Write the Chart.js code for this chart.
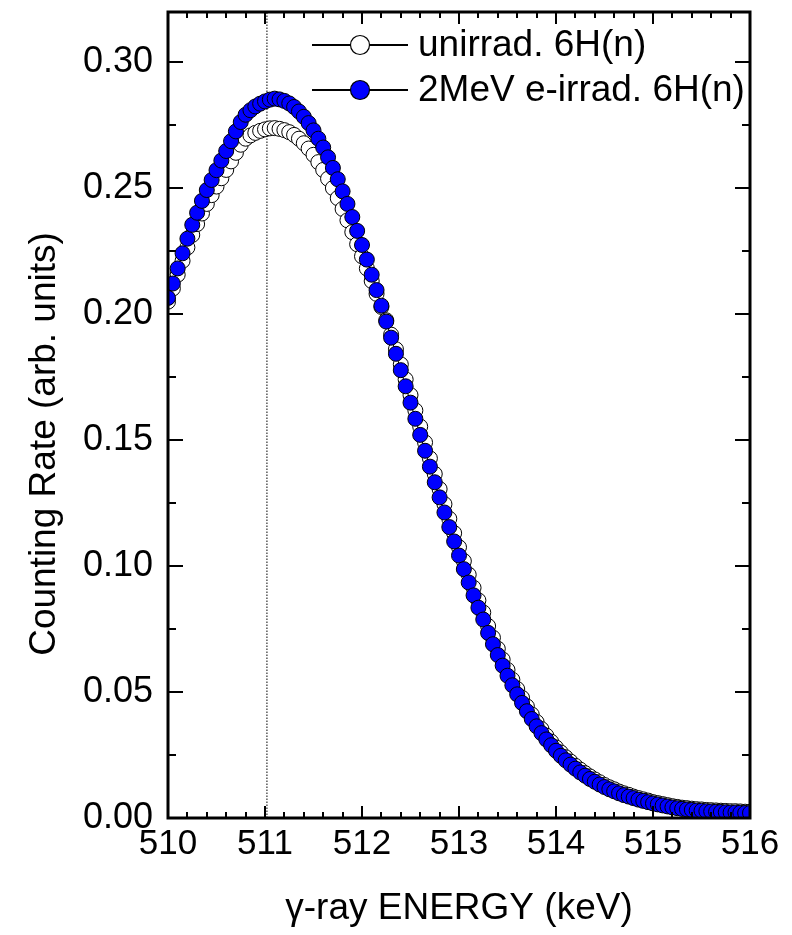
<!DOCTYPE html>
<html>
<head>
<meta charset="utf-8">
<script src="https://cdn.jsdelivr.net/npm/chart.js@4.4.1/dist/chart.umd.min.js"></script>
<style>
  body { margin: 0; background: #fff; }
  canvas { display: block; }
</style>
</head>
<body>
<canvas id="chart" width="792" height="935"></canvas>
<script>
// gamma-ray energy of each channel (keV)
const energy = [
  510.00, 510.05, 510.10, 510.15, 510.20, 510.25, 510.30, 510.35, 510.40, 510.45,
  510.50, 510.55, 510.60, 510.65, 510.70, 510.75, 510.80, 510.85, 510.90, 510.95,
  511.00, 511.05, 511.10, 511.15, 511.20, 511.25, 511.30, 511.35, 511.40, 511.45,
  511.50, 511.55, 511.60, 511.65, 511.70, 511.75, 511.80, 511.85, 511.90, 511.95,
  512.00, 512.05, 512.10, 512.15, 512.20, 512.25, 512.30, 512.35, 512.40, 512.45,
  512.50, 512.55, 512.60, 512.65, 512.70, 512.75, 512.80, 512.85, 512.90, 512.95,
  513.00, 513.05, 513.10, 513.15, 513.20, 513.25, 513.30, 513.35, 513.40, 513.45,
  513.50, 513.55, 513.60, 513.65, 513.70, 513.75, 513.80, 513.85, 513.90, 513.95,
  514.00, 514.05, 514.10, 514.15, 514.20, 514.25, 514.30, 514.35, 514.40, 514.45,
  514.50, 514.55, 514.60, 514.65, 514.70, 514.75, 514.80, 514.85, 514.90, 514.95,
  515.00, 515.05, 515.10, 515.15, 515.20, 515.25, 515.30, 515.35, 515.40, 515.45,
  515.50, 515.55, 515.60, 515.65, 515.70, 515.75, 515.80, 515.85, 515.90, 515.95,
  516.00
];

// unirradiated 6H(n) - open circles
const unirrad = [
  0.2050, 0.2102, 0.2157, 0.2212, 0.2265, 0.2315, 0.2358, 0.2400, 0.2438, 0.2473,
  0.2507, 0.2540, 0.2573, 0.2607, 0.2641, 0.2673, 0.2697, 0.2710, 0.2720, 0.2728,
  0.2734, 0.2738, 0.2739, 0.2736, 0.2731, 0.2723, 0.2712, 0.2697, 0.2679, 0.2658,
  0.2633, 0.2604, 0.2573, 0.2538, 0.2501, 0.2461, 0.2418, 0.2373, 0.2326, 0.2278,
  0.2230, 0.2182, 0.2132, 0.2081, 0.2029, 0.1976, 0.1919, 0.1861, 0.1801, 0.1741,
  0.1679, 0.1618, 0.1554, 0.1491, 0.1428, 0.1366, 0.1306, 0.1246, 0.1188, 0.1131,
  0.1075, 0.1020, 0.0966, 0.0914, 0.0864, 0.0816, 0.0762, 0.0716, 0.0672, 0.0629,
  0.0588, 0.0549, 0.0512, 0.0477, 0.0443, 0.0411, 0.0381, 0.0353, 0.0327, 0.0303,
  0.0280, 0.0260, 0.0241, 0.0224, 0.0207, 0.0192, 0.0178, 0.0165, 0.0153, 0.0142,
  0.0131, 0.0122, 0.0114, 0.0105, 0.0098, 0.0092, 0.0085, 0.0079, 0.0074, 0.0069,
  0.0063, 0.0059, 0.0055, 0.0051, 0.0047, 0.0044, 0.0041, 0.0039, 0.0037, 0.0035,
  0.0034, 0.0032, 0.0031, 0.0030, 0.0029, 0.0028, 0.0027, 0.0027, 0.0026, 0.0025,
  0.0025
];

// 2 MeV electron-irradiated 6H(n) - blue circles
const irrad = [
  0.2065, 0.2122, 0.2182, 0.2242, 0.2300, 0.2355, 0.2403, 0.2450, 0.2493, 0.2533,
  0.2572, 0.2610, 0.2648, 0.2687, 0.2726, 0.2763, 0.2792, 0.2810, 0.2825, 0.2836,
  0.2845, 0.2852, 0.2856, 0.2853, 0.2847, 0.2837, 0.2823, 0.2805, 0.2784, 0.2759,
  0.2730, 0.2697, 0.2662, 0.2623, 0.2581, 0.2536, 0.2488, 0.2438, 0.2386, 0.2331,
  0.2275, 0.2217, 0.2157, 0.2096, 0.2034, 0.1971, 0.1907, 0.1843, 0.1778, 0.1714,
  0.1649, 0.1585, 0.1521, 0.1458, 0.1395, 0.1333, 0.1273, 0.1213, 0.1155, 0.1098,
  0.1042, 0.0988, 0.0935, 0.0884, 0.0835, 0.0788, 0.0735, 0.0690, 0.0647, 0.0605,
  0.0565, 0.0527, 0.0491, 0.0457, 0.0424, 0.0393, 0.0364, 0.0337, 0.0312, 0.0289,
  0.0267, 0.0247, 0.0229, 0.0212, 0.0196, 0.0181, 0.0168, 0.0155, 0.0144, 0.0133,
  0.0123, 0.0114, 0.0106, 0.0098, 0.0091, 0.0085, 0.0079, 0.0073, 0.0068, 0.0063,
  0.0058, 0.0054, 0.0050, 0.0046, 0.0042, 0.0039, 0.0036, 0.0034, 0.0032, 0.0030,
  0.0029, 0.0027, 0.0026, 0.0025, 0.0024, 0.0023, 0.0022, 0.0022, 0.0021, 0.0020,
  0.0020
];

const peakLine = [511.02, 511.02];
const peakLineY = [0, 0.32];

const xTickLabels = ['510', '511', '512', '513', '514', '515', '516'];
const yTickLabels = ['0.00', '0.05', '0.10', '0.15', '0.20', '0.25', '0.30'];

const legendNames = ['unirrad. 6H(n)', '2MeV e-irrad. 6H(n)'];

const FONT = "'Liberation Sans', Arial, sans-serif";

// *****

function toPoints(xs, ys) {
  return xs.map((x, i) => ({ x: x, y: ys[i] }));
}

// frame, inward ticks, y title and legend
const framePlugin = {
  id: 'frame',
  afterDatasetsDraw(chart) {
    const { ctx, chartArea: a, scales } = chart;
    const x = scales.x;
    const y = scales.y;
    ctx.save();
    ctx.strokeStyle = '#000';
    ctx.lineWidth = 2;
    ctx.beginPath();
    // x ticks, 5 per keV
    for (let i = 0; i <= 30; i++) {
      const px = Math.round(x.getPixelForValue(510 + i * 0.2));
      const len = i % 5 === 0 ? 12 : 6;
      ctx.moveTo(px, a.bottom);
      ctx.lineTo(px, a.bottom - len);
      ctx.moveTo(px, a.top);
      ctx.lineTo(px, a.top + len);
    }
    // y ticks, major 0.05 and minor 0.025
    for (let i = 0; i <= 12; i++) {
      const py = Math.round(y.getPixelForValue(i * 0.025));
      const len = i % 2 === 0 ? 15 : 8;
      ctx.moveTo(a.left, py);
      ctx.lineTo(a.left + len, py);
      ctx.moveTo(a.right, py);
      ctx.lineTo(a.right - len, py);
    }
    ctx.stroke();

    ctx.lineWidth = 3;
    ctx.strokeRect(a.left, a.top, a.right - a.left, a.bottom - a.top);

    // y axis title
    ctx.fillStyle = '#000';
    ctx.font = '37px ' + FONT;
    ctx.textAlign = 'center';
    ctx.textBaseline = 'middle';
    ctx.translate(45, 444);
    ctx.rotate(-Math.PI / 2);
    ctx.fillText('Counting Rate (arb. units)', 0, 0);
    ctx.setTransform(1, 0, 0, 1, 0, 0);

    // legend: line + marker sample
    const rows = [45, 90];
    [0, 1].forEach((d, i) => {
      const ds = chart.data.datasets[d];
      const ly = rows[i];
      ctx.lineWidth = 2;
      ctx.strokeStyle = '#000';
      ctx.beginPath();
      ctx.moveTo(312, ly);
      ctx.lineTo(408, ly);
      ctx.stroke();
      ctx.beginPath();
      ctx.arc(360, ly, 9.5, 0, Math.PI * 2);
      ctx.fillStyle = ds.pointBackgroundColor;
      ctx.fill();
      ctx.lineWidth = 1.2;
      ctx.stroke();
      ctx.fillStyle = '#000';
      ctx.font = '37px ' + FONT;
      ctx.textAlign = 'left';
      ctx.textBaseline = 'middle';
      ctx.fillText(legendNames[i], 418, ly + 1);
    });
    ctx.restore();
  },
};

const ctx = document.getElementById('chart').getContext('2d');

const chart = new Chart(ctx, {
  type: 'line',
  data: {
    datasets: [
      {
        label: legendNames[0],
        data: toPoints(energy, unirrad),
        borderColor: '#000',
        borderWidth: 1,
        pointRadius: 7.5,
        pointBorderWidth: 1,
        pointBackgroundColor: '#ffffff',
        pointBorderColor: '#000',
        fill: false,
        clip: 0,
        order: 1,
      },
      {
        label: legendNames[1],
        data: toPoints(energy, irrad),
        borderColor: '#000',
        borderWidth: 1,
        pointRadius: 7.5,
        pointBorderWidth: 1,
        pointBackgroundColor: '#0000ff',
        pointBorderColor: '#000',
        fill: false,
        clip: 0,
        order: 0,
      },
      {
        label: 'peak',
        data: toPoints(peakLine, peakLineY),
        borderColor: '#000',
        borderWidth: 1,
        borderDash: [1.5, 1.5],
        pointRadius: 0,
        fill: false,
        clip: 0,
        order: 2,
      },
    ],
  },
  options: {
    responsive: false,
    animation: false,
    devicePixelRatio: 1,
    layout: {
      padding: { left: 0, top: 12, right: 42, bottom: 0 },
    },
    plugins: {
      legend: { display: false },
      tooltip: { enabled: false },
    },
    scales: {
      x: {
        type: 'linear',
        min: 510,
        max: 516,
        grid: { display: false, drawTicks: false },
        border: { display: false },
        ticks: {
          stepSize: 1,
          padding: 5,
          color: '#000',
          maxRotation: 0,
          autoSkip: false,
          font: { family: FONT, size: 35 },
          callback: (v) => xTickLabels[Math.round(v - 510)],
        },
        title: {
          display: true,
          text: 'γ-ray ENERGY (keV)',
          color: '#000',
          font: { family: FONT, size: 37 },
          padding: { top: 0, bottom: 4 },
        },
        afterFit: (scale) => {
          scale.height = 117;
          scale.paddingLeft = 0;
          scale.paddingRight = 0;
        },
      },
      y: {
        min: 0,
        max: 0.32,
        grid: { display: false, drawTicks: false },
        border: { display: false },
        ticks: {
          stepSize: 0.05,
          includeBounds: false,
          padding: 15,
          color: '#000',
          font: { family: FONT, size: 36 },
          callback: (v) => yTickLabels[Math.round(v / 0.05)],
        },
        afterFit: (scale) => {
          scale.width = 168;
          scale.paddingTop = 0;
          scale.paddingBottom = 0;
        },
      },
    },
  },
  plugins: [framePlugin],
});
</script>
</body>
</html>
